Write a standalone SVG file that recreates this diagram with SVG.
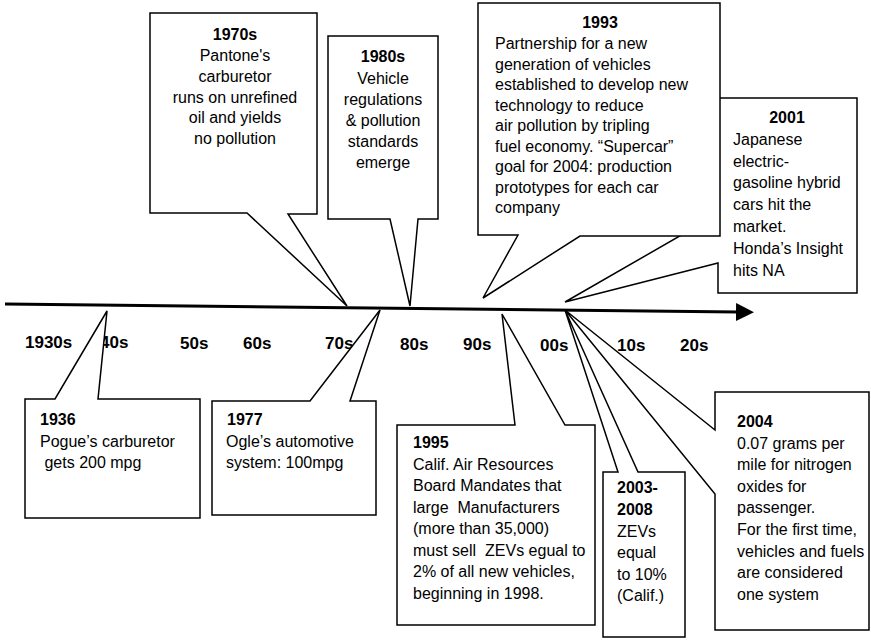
<svg xmlns="http://www.w3.org/2000/svg" width="871" height="643" viewBox="0 0 871 643">
<style>
  .co { fill: #ffffff; stroke: #000000; stroke-width: 1.5; stroke-linejoin: miter; }
  text { font-family: "Liberation Sans", Arial, Helvetica, sans-serif; fill: #000000; }
  .t { font-size: 16px; white-space: pre; }
  .b { font-size: 16px; font-weight: bold; }
  .dec { font-size: 17px; font-weight: bold; }
  .axis { stroke: #000000; stroke-width: 3; fill: none; }
</style>
<defs>
  <marker id="arrow" viewBox="0 0 18 18" refX="2" refY="9" markerWidth="18" markerHeight="18" markerUnits="userSpaceOnUse" orient="auto">
    <path d="M0,0 L18,9 L0,18 Z" fill="#000000"/>
  </marker>
</defs>
<rect x="0" y="0" width="871" height="643" fill="#ffffff"/>

<g id="decades">
  <text class="dec" x="25" y="348">1930s</text>
  <text class="dec" x="100" y="348">40s</text>
  <text class="dec" x="180" y="349">50s</text>
  <text class="dec" x="243" y="349">60s</text>
  <text class="dec" x="325" y="349">70s</text>
  <text class="dec" x="400" y="350">80s</text>
  <text class="dec" x="463" y="350">90s</text>
  <text class="dec" x="540" y="351">00s</text>
  <text class="dec" x="617" y="351">10s</text>
  <text class="dec" x="680" y="351">20s</text>
</g>

<g id="n1970s">
  <path class="co" d="M150,13 H317 V214 H288 L347,306 L247,213 H150 Z"/>
  <text class="b" x="235" y="40" text-anchor="middle">1970s</text>
  <text class="t" x="235" y="61" text-anchor="middle">Pantone's</text>
  <text class="t" x="235" y="82" text-anchor="middle">carburetor</text>
  <text class="t" x="235" y="102.5" text-anchor="middle">runs on unrefined</text>
  <text class="t" x="235" y="123" text-anchor="middle">oil and yields</text>
  <text class="t" x="235" y="144" text-anchor="middle">no pollution</text>
</g>

<g id="n1980s">
  <path class="co" d="M328,36 H438 V219 H418 L410,306 L390,219 H328 Z"/>
  <text class="b" x="383" y="62" text-anchor="middle">1980s</text>
  <text class="t" x="383" y="84" text-anchor="middle">Vehicle</text>
  <text class="t" x="383" y="105" text-anchor="middle">regulations</text>
  <text class="t" x="383" y="126" text-anchor="middle">&amp; pollution</text>
  <text class="t" x="383" y="147" text-anchor="middle">standards</text>
  <text class="t" x="383" y="168" text-anchor="middle">emerge</text>
</g>

<g id="n2001">
  <path class="co" d="M718,98 H857 V293 H718 V263 L565,302 L718,214 Z"/>
  <text class="b" x="787" y="123" text-anchor="middle">2001</text>
  <text class="t" x="733" y="145">Japanese</text>
  <text class="t" x="733" y="167">electric-</text>
  <text class="t" x="733" y="188">gasoline hybrid</text>
  <text class="t" x="733" y="210">cars hit the</text>
  <text class="t" x="733" y="232">market.</text>
  <text class="t" x="733" y="254">Honda’s Insight</text>
  <text class="t" x="733" y="276">hits NA</text>
</g>

<g id="n1993">
  <path class="co" d="M478,3 H720 V236 H580 L483,298 L518,235 H478 Z"/>
  <text class="b" x="600" y="28" text-anchor="middle">1993</text>
  <text class="t" x="495" y="49">Partnership for a new</text>
  <text class="t" x="495" y="69.5">generation of vehicles</text>
  <text class="t" x="495" y="90">established to develop new</text>
  <text class="t" x="495" y="110.5">technology to reduce</text>
  <text class="t" x="495" y="131">air pollution by tripling</text>
  <text class="t" x="495" y="151.5">fuel economy. “Supercar”</text>
  <text class="t" x="495" y="172">goal for 2004: production</text>
  <text class="t" x="495" y="192.5">prototypes for each car</text>
  <text class="t" x="495" y="213">company</text>
</g>

<g id="n1936">
  <path class="co" d="M25,399 H55 L107,311 L98,399 H200 V518 H25 Z"/>
  <text class="b" x="40" y="425">1936</text>
  <text class="t" x="40" y="447">Pogue’s carburetor</text>
  <text class="t" x="40" y="468"> gets 200 mpg</text>
</g>

<g id="n1977">
  <path class="co" d="M212,401 H310 L380,310 L350,401 H376 V515 H212 Z"/>
  <text class="b" x="227" y="425">1977</text>
  <text class="t" x="226" y="447">Ogle’s automotive</text>
  <text class="t" x="226" y="468">system: 100mpg</text>
</g>

<g id="n1995">
  <path class="co" d="M397,425 H515 L502,314 L565,425 H595 V625 H397 Z"/>
  <text class="b" x="413" y="448">1995</text>
  <text class="t" x="413" y="469.5">Calif. Air Resources</text>
  <text class="t" x="413" y="491">Board Mandates that</text>
  <text class="t" x="413" y="512.5">large  Manufacturers</text>
  <text class="t" x="413" y="534">(more than 35,000)</text>
  <text class="t" x="413" y="555.5">must sell  ZEVs egual to</text>
  <text class="t" x="413" y="577">2% of all new vehicles,</text>
  <text class="t" x="413" y="598.5">beginning in 1998.</text>
</g>

<g id="n2004">
  <path class="co" d="M715,392 H869 V630 H715 V494 L565,310 L715,430 Z"/>
  <text class="b" x="737" y="427">2004</text>
  <text class="t" x="737" y="448.5">0.07 grams per</text>
  <text class="t" x="737" y="470">mile for nitrogen</text>
  <text class="t" x="737" y="491.5">oxides for</text>
  <text class="t" x="737" y="513">passenger.</text>
  <text class="t" x="737" y="535">For the first time,</text>
  <text class="t" x="737" y="556.5">vehicles and fuels</text>
  <text class="t" x="737" y="578">are considered</text>
  <text class="t" x="737" y="599.5">one system</text>
</g>

<g id="n2003-2008">
  <path class="co" d="M603,472 H618 L565,310 L638,472 H685 V637 H603 Z"/>
  <text class="b" x="617" y="493">2003-</text>
  <text class="b" x="617" y="515">2008</text>
  <text class="t" x="617" y="537">ZEVs</text>
  <text class="t" x="617" y="558">equal</text>
  <text class="t" x="617" y="580">to 10%</text>
  <text class="t" x="617" y="601">(Calif.)</text>
</g>

<g id="connectors">
  <line class="axis" x1="5" y1="304" x2="738" y2="312" marker-end="url(#arrow)"/>
</g>
</svg>
